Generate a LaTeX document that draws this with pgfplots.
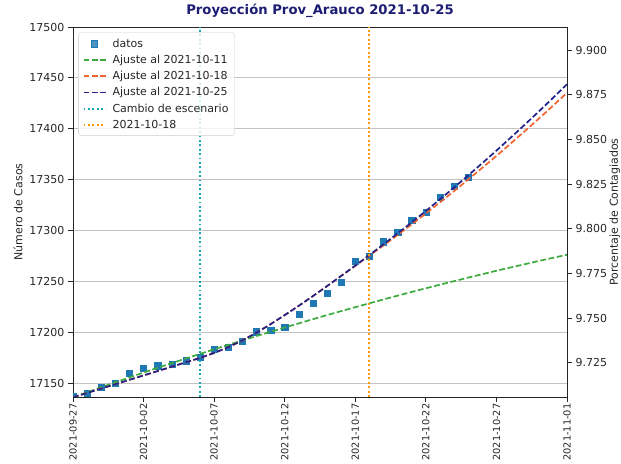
\documentclass[border=0pt]{standalone}
\usepackage{pgfplots}
\pgfplotsset{compat=1.18}
\usepackage{pgfplotstable}
\usepackage{fontspec}
\setmainfont{DejaVu Sans}
\definecolor{cdatos}{HTML}{1F77B4}
\definecolor{cgreen}{HTML}{3DAA3D}
\definecolor{corange}{HTML}{F26430}
\definecolor{cnavy}{HTML}{22228A}
\definecolor{ccyan}{HTML}{17A5B8}
\definecolor{cgold}{HTML}{FF9A00}
\definecolor{ctitle}{HTML}{1C1C72}
\definecolor{cgrid}{HTML}{C4C4C4}
\definecolor{ctext}{HTML}{262626}

\pgfplotstableread{
t v
0 17137
1 17139.5
2 17146
3 17150
4 17160
5 17165
6 17167
7 17168.5
8 17172
9 17175.5
10 17183
11 17185.5
12 17191
13 17200.5
14 17202
15 17205
16 17217.5
17 17228.5
18 17238
19 17249.5
20 17270
21 17275
22 17289
23 17298.5
24 17310
25 17318
26 17333
27 17343.5
28 17352.5
}\datos

\pgfplotstableread{
t v
0 17136
1 17141.0
2 17145.9
3 17150.7
4 17155.5
5 17160.3
6 17165.0
7 17169.6
8 17174.2
9 17178.7
10 17183.2
11 17187.6
12 17191.9
13 17196.2
14 17200.4
15 17204.6
16 17208.7
17 17212.8
18 17216.8
19 17220.7
20 17224.6
21 17228.4
22 17232.2
23 17235.9
24 17239.6
25 17243.2
26 17246.7
27 17250.2
28 17253.7
29 17257.0
30 17260.4
31 17263.6
32 17266.8
33 17270.0
34 17273.1
35 17276.1
}\ajusteA

\pgfplotstableread{
t v
0 17136
1 17140.3
2 17144.6
3 17148.9
4 17153.2
5 17157.5
6 17161.8
7 17166.1
8 17170.4
9 17174.7
10 17179.6
11 17185.3
12 17191.9
13 17199.5
14 17207.9
15 17216.8
16 17226.0
17 17235.5
18 17245.3
19 17255.3
20 17265.2
21 17275.2
22 17285.3
23 17295.6
24 17306.0
25 17316.7
26 17327.6
27 17338.7
28 17350.1
29 17361.6
30 17373.3
31 17385.3
32 17397.5
33 17409.9
34 17422.5
35 17435.3
}\ajusteB

\pgfplotstableread{
t v
0 17136
1 17140.3
2 17144.6
3 17148.9
4 17153.2
5 17157.5
6 17161.8
7 17166.1
8 17170.4
9 17174.7
10 17179.6
11 17185.3
12 17191.9
13 17199.5
14 17207.9
15 17216.8
16 17226.0
17 17235.5
18 17245.3
19 17255.3
20 17265.5
21 17275.9
22 17286.4
23 17297.1
24 17308.0
25 17319.2
26 17330.6
27 17342.2
28 17354.1
29 17366.2
30 17378.5
31 17391.1
32 17403.9
33 17416.9
34 17430.2
35 17443.7
}\ajusteC

\begin{document}
\begin{tikzpicture}
\useasboundingbox (0,0) rectangle (621bp,464bp);
\begin{axis}[
  at={(73bp,67bp)}, anchor=south west,
  scale only axis, width=494bp, height=370bp,
  xmin=0, xmax=35, ymin=17136.3, ymax=17500,
  xtick={0,5,10,15,20,25,30,35},
  xticklabels={2021-09-27,2021-10-02,2021-10-07,2021-10-12,2021-10-17,2021-10-22,2021-10-27,2021-11-01},
  x tick label style={rotate=90, anchor=east, inner sep=1.5bp, font=\fontsize{9.8bp}{11bp}\selectfont, text=ctext},
  ytick={17150,17200,17250,17300,17350,17400,17450,17500},
  scaled y ticks=false,
  y tick label style={font=\fontsize{11bp}{13bp}\selectfont, text=ctext},
  /pgf/number format/1000 sep={},
  /pgf/number format/assume math mode=true,
  xtick pos=bottom, ytick pos=left,
  tick align=outside, major tick length=5bp,
  tick style={ctext, line width=0.9bp},
  axis line style={ctext, line width=0.9bp},
  ymajorgrids, grid style={cgrid, line width=0.9bp},
  clip marker paths=true,
  title={\textbf{Proyección Prov\_Arauco 2021-10-25}},
  title style={at={(0.5,1)}, anchor=south, yshift=1bp, inner sep=2bp, text=ctitle, font=\fontsize{13.2bp}{15bp}\selectfont},
  ylabel={Número de Casos},
  ylabel style={at={(axis description cs:-0.111,0.5)}, anchor=center, rotate=0, font=\fontsize{11bp}{13bp}\selectfont, text=ctext},
  legend style={at={(axis description cs:0.011,0.985)}, anchor=north west,
    draw=gray!40, rounded corners=2.5bp, fill=white, fill opacity=0.8, text opacity=1,
    font=\fontsize{11bp}{13bp}\selectfont, text=ctext,
    row sep=2.4bp, inner xsep=4bp, inner ysep=4bp,
    /tikz/every odd column/.append style={column sep=4bp}},
  legend cell align=left,
  legend image code/.code={\draw[mark repeat=2,mark phase=2,#1] plot coordinates {(0bp,0bp) (11bp,0bp) (22bp,0bp)};},
]
\addplot[only marks, mark=square*, mark size=3.1bp, color=cdatos] table[x=t,y=v] {\datos};
\addlegendentry{datos}
\addplot[cgreen, line width=1.7bp, dash pattern=on 5.8bp off 2.6bp] table[x=t,y=v] {\ajusteA};
\addlegendentry{Ajuste al 2021-10-11}
\addplot[corange, line width=1.7bp, dash pattern=on 5.8bp off 2.6bp] table[x=t,y=v] {\ajusteB};
\addlegendentry{Ajuste al 2021-10-18}
\addplot[cnavy, line width=1.7bp, dash pattern=on 5.8bp off 2.6bp] table[x=t,y=v] {\ajusteC};
\addlegendentry{Ajuste al 2021-10-25}
\addplot[ccyan, line width=1.8bp, dash pattern=on 1.8bp off 2.6bp] coordinates {(9,17136.3) (9,17500)};
\addlegendentry{Cambio de escenario}
\addplot[cgold, line width=1.9bp, dash pattern=on 1.9bp off 2.5bp] coordinates {(21,17136.3) (21,17500)};
\addlegendentry{2021-10-18}
\end{axis}
\begin{axis}[
  at={(73bp,67bp)}, anchor=south west,
  scale only axis, width=494bp, height=370bp,
  xmin=0, xmax=35, ymin=9.7058, ymax=9.9129,
  axis y line*=right, axis x line=none,
  ytick={9.725,9.750,9.775,9.800,9.825,9.850,9.875,9.900},
  yticklabel style={/pgf/number format/fixed, /pgf/number format/fixed zerofill, /pgf/number format/precision=3, font=\fontsize{11bp}{13bp}\selectfont, text=ctext},
  /pgf/number format/assume math mode=true,
  tick align=outside, major tick length=5bp,
  tick style={ctext, line width=0.9bp},
  axis line style={ctext, line width=0.9bp},
  ylabel={Porcentaje de Contagiados},
  ylabel style={at={(axis description cs:1.097,0.5)}, anchor=center, font=\fontsize{11bp}{13bp}\selectfont, text=ctext},
]
\addplot[draw=none] coordinates {(0,9.8)};
\end{axis}
\end{tikzpicture}
\end{document}
